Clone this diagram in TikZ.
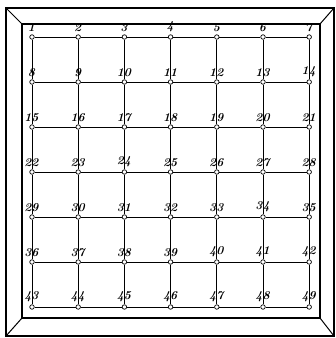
\documentclass[tikz,border=0pt]{standalone}
\usetikzlibrary{positioning}
\begin{document}
\begin{tikzpicture}[x=1pt,y=1pt,
  frame/.style={line width=1.4pt, line join=miter},
  bevel/.style={line width=1pt},
  gridline/.style={line width=0.8pt},
  dot/.style={circle, draw, fill=white, line width=0.7pt, inner sep=0pt, minimum size=4.5pt},
  num/.style={font=\fontsize{12}{12}\selectfont\bfseries\itshape, inner sep=0pt}]
\useasboundingbox (0,0) rectangle (336,338);
% frame
\coordinate (o1) at (6,330);
\coordinate (o2) at (334,330);
\coordinate (o3) at (334,2);
\coordinate (o4) at (6,2);
\coordinate (i1) at (22,314);
\coordinate (i2) at (320,314);
\coordinate (i3) at (320,20);
\coordinate (i4) at (22,20);
\draw[frame] (o1) -- (o2) -- (o3) -- (o4) -- cycle;
\draw[frame] (i1) -- (i2) -- (i3) -- (i4) -- cycle;
\draw[bevel] (o1) -- (i1) (o2) -- (i2) (o3) -- (i3) (o4) -- (i4);
% nodes
\foreach \r in {0,...,6}{
  \foreach \c in {0,...,6}{
    \pgfmathtruncatemacro{\k}{7*\r+\c+1}
    \node[dot] (n\k) at ({32+46.2*\c},{301-45*\r}) {};
    \node[num, above=2.5pt of n\k.north, xshift=-0.5pt] (t\k) {\k};
  }
}
% lines
\foreach \r in {0,...,6}{
  \foreach \c in {0,...,5}{
    \pgfmathtruncatemacro{\a}{7*\r+\c+1}
    \pgfmathtruncatemacro{\b}{\a+1}
    \draw[gridline] (n\a) -- (n\b);
  }
}
\foreach \r in {0,...,5}{
  \foreach \c in {0,...,6}{
    \pgfmathtruncatemacro{\a}{7*\r+\c+1}
    \pgfmathtruncatemacro{\b}{\a+7}
    \draw[gridline] (n\a) -- (n\b);
  }
}
\end{tikzpicture}
\end{document}
